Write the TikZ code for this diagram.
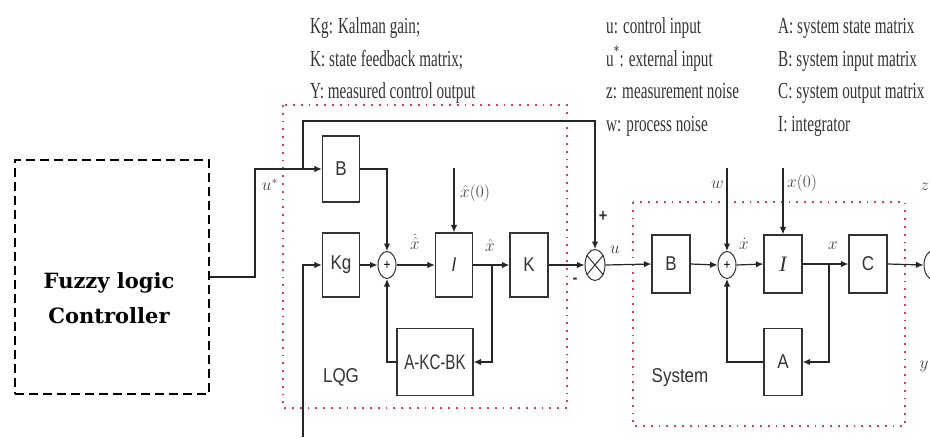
\documentclass[tikz,border=0pt]{standalone}
\usepackage{fontspec}
\setmainfont{Liberation Serif}
\newfontfamily\topfont[FakeStretch=0.66]{Liberation Serif}
\newfontfamily\blkfont[FakeStretch=0.85]{Liberation Sans}
\newfontfamily\akcfont[FakeStretch=0.72]{Liberation Sans}
\newfontfamily\fuzfont{DejaVu Serif}
\usetikzlibrary{arrows.meta,shapes.geometric}
\definecolor{dotred}{RGB}{225,60,80}
\begin{document}
\begin{tikzpicture}[x=1pt,y=-1pt,
  blk/.style={draw=black!80, line width=1.3pt, minimum width=37pt, minimum height=64pt, inner sep=0pt,
    font=\blkfont\fontsize{20}{22}\selectfont, text=black!80},
  sumn/.style={draw=black!80, ellipse, minimum width=18pt, minimum height=27pt, inner sep=0pt, line width=1pt,
    font=\blkfont\fontsize{14}{14}\selectfont},
  arr/.style={-{Latex[length=7.5pt,width=6.5pt]}, line width=1.2pt, draw=black!85},
  redbox/.style={draw=dotred, line width=1.8pt, dash pattern=on 1.8pt off 6pt},
  fuzbox/.style={draw, line width=2.2pt, dash pattern=on 9pt off 5pt, inner sep=0pt},
  mlab/.style={font=\fontsize{18}{20}\selectfont, text=black!75, inner sep=0pt},
  toptxt/.style={anchor=base west, font=\topfont\fontsize{23}{25}\selectfont, inner sep=0pt, text=black!80},
  sansl/.style={font=\blkfont\fontsize{20}{22}\selectfont, text=black!80, inner sep=0pt},
  sgn/.style={font=\blkfont\bfseries\fontsize{17}{17}\selectfont, text=black!80, inner sep=0pt}]
\useasboundingbox (0,0) rectangle (930,437);
\clip (0,0) rectangle (930,437);

% legend texts
\node[toptxt] (t1) at (310,33) {Kg: Kalman gain;};
\node[toptxt] (t2) at (310,66) {K: state feedback matrix;};
\node[toptxt] (t3) at (310,98) {Y: measured control output};
\node[toptxt] (t4) at (606,33) {u: control input};
\node[toptxt] (t5) at (606,66) {u\textsuperscript{*}: external input};
\node[toptxt] (t6) at (606,98) {z: measurement noise};
\node[toptxt] (t7) at (606,131) {w: process noise};
\node[toptxt] (t8) at (778,33) {A: system state matrix};
\node[toptxt] (t9) at (778,66) {B: system input matrix};
\node[toptxt] (t10) at (778,98) {C: system output matrix};
\node[toptxt] (t11) at (778,131) {I: integrator};

% red dotted frames
\draw[redbox] (283,105) rectangle (567,408);
\draw[redbox] (633,202) rectangle (905,426);

% fuzzy controller
\node[fuzbox, minimum width=194pt, minimum height=234pt] (F) at (112,277) {};
\node[font=\fuzfont\bfseries\fontsize{21}{35}\selectfont, align=center, inner sep=0pt] (ft) at (109,298) {Fuzzy logic\\Controller};

% LQG blocks
\node[blk, minimum height=66pt] (B1) at (341,169) {B};
\node[blk] (Kg) at (341,265) {Kg};
\node[sumn] (S1) at (387,265) {+};
\node[blk] (I1) at (454,265) {\itshape I};
\node[blk, minimum width=38pt] (K) at (529,265) {K};
\node[blk, minimum width=76pt, minimum height=67pt, font=\akcfont\fontsize{21}{22}\selectfont] (AKC) at (435,362) {A-KC-BK};
\node[sansl] (lqg) at (341,377) {LQG};

% multiplier
\node[draw=black!80, ellipse, minimum width=20pt, minimum height=31pt, inner sep=0pt, line width=1pt] (M) at (595,265) {};
\draw[line width=1pt, black!80] (M.50) -- (M.230) (M.130) -- (M.310);

% system blocks
\node[blk, minimum width=38pt, minimum height=58pt] (B2) at (671,264) {B};
\node[sumn] (S2) at (727,265) {+};
\node[blk, minimum width=38pt, minimum height=58pt, font=\rmfamily\itshape\fontsize{22}{22}\selectfont] (I2) at (783,264) {I};
\node[blk, minimum width=38pt, minimum height=58pt] (C) at (868,264) {C};
\node[blk, minimum width=38pt, minimum height=67pt] (A2) at (783,362) {A};
\node[sansl] (sys) at (680,378) {System};
\node[draw=black!80, ellipse, minimum width=22pt, minimum height=31pt, inner sep=0pt, line width=1pt] (Out) at (935,265) {};

% coordinates
\coordinate (j1) at (255,200);
\coordinate (jt) at (303,169);
\coordinate (tt) at (303,121);
\coordinate (kin) at (303,437);
\coordinate (x0a) at (454,168);
\coordinate (jx) at (492,265);
\coordinate (w0) at (727,168);
\coordinate (x02) at (783,168);
\coordinate (jX) at (829,265);

% connectors LQG
\draw[arr] (F.east) -| (j1) |- (B1.west);
\draw[arr] (jt) -- (tt) -| (M.north);
\draw[arr] (kin) |- (Kg.west);
\draw[arr] (B1.east) -| (S1.north);
\draw[arr] (Kg.east) -- (S1.west);
\draw[arr] (S1.east) -- (I1.west);
\draw[arr] (x0a) -- (I1.north);
\draw[arr] (I1.east) -- (K.west);
\draw[arr] (jx) |- (AKC.east);
\draw[arr] (AKC.west) -| (S1.south);
\draw[arr] (K.east) -- (M.west);
% connectors system
\draw[arr] (M.east) -- (B2.west);
\draw[arr] (B2.east) -- (S2.west);
\draw[arr] (w0) -- (S2.north);
\draw[arr] (S2.east) -- (I2.west);
\draw[arr] (x02) -- (I2.north);
\draw[arr] (I2.east) -- (C.west);
\draw[arr] (jX) |- (A2.east);
\draw[arr] (A2.west) -| (S2.south);
\draw[arr] (C.east) -- (Out.west);

% signal labels
\node[mlab] (lus) at (270,185) {$u^{*}$};
\node[mlab, anchor=west] (lx0) at (460,193) {$\hat{x}(0)$};
\node[mlab] (lxhd) at (415,242) {$\dot{\hat{x}}$};
\node[mlab] (lxh) at (490,245) {$\hat{x}$};
\node[sgn] (lplus) at (603,217) {+};
\node[sgn] (lminus) at (575,281) {-};
\node[mlab] (lu) at (615,250) {$u$};
\node[mlab, anchor=east] (lw) at (724,185) {$w$};
\node[mlab, anchor=west] (lx02) at (787,183) {$x(0)$};
\node[mlab] (lxd) at (744,244) {$\dot{x}$};
\node[mlab] (lx) at (833,246) {$x$};
\node[mlab] (lz) at (925,187) {$z$};
\node[mlab] (ly) at (924,366) {$y$};
\end{tikzpicture}
\end{document}
